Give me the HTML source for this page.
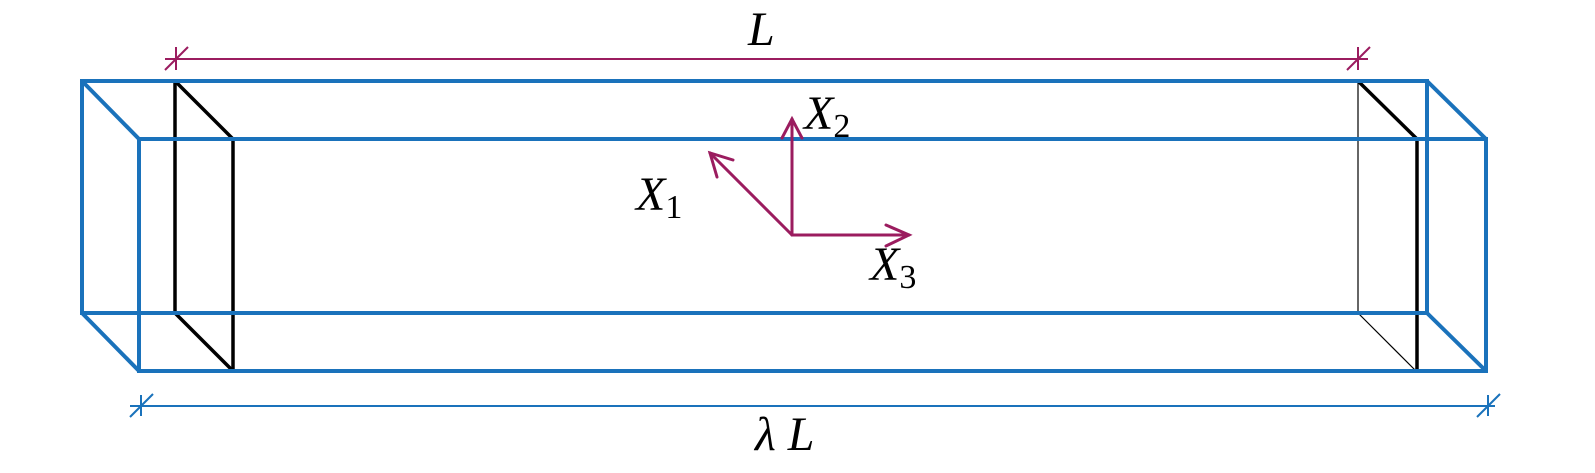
<!DOCTYPE html>
<html><head><style>body{margin:0;background:#fff}svg{display:block}text{font-family:"Liberation Serif",serif;font-style:italic;fill:#000}</style></head>
<body>
<svg width="1595" height="473" viewBox="0 0 1595 473" xmlns="http://www.w3.org/2000/svg">
<g stroke="#000" fill="none" stroke-width="3.5">
<line x1="175" y1="80" x2="175" y2="313"/>
<line x1="175" y1="81" x2="233" y2="139"/>
<line x1="233" y1="139" x2="233" y2="373"/>
<line x1="175" y1="313" x2="233" y2="371"/>
<line x1="1358" y1="81" x2="1417" y2="139"/>
<line x1="1417" y1="139" x2="1417" y2="371"/>
</g>
<g stroke="#000" fill="none" stroke-width="1.2">
<line x1="1358" y1="81" x2="1358" y2="313"/>
<line x1="1358" y1="313" x2="1416" y2="371"/>
</g>
<g stroke="#1a72bb" fill="none" stroke-width="4">
<rect x="82" y="81" width="1345" height="232"/>
<rect x="139" y="139" width="1347" height="232"/>
<line x1="82" y1="81" x2="139" y2="139"/>
<line x1="82" y1="313" x2="139" y2="371"/>
<line x1="1427" y1="81" x2="1486" y2="139"/>
<line x1="1427" y1="313" x2="1486" y2="371"/>
</g>
<g stroke="#1a72bb" fill="none" stroke-width="2">
<line x1="130" y1="406" x2="1495" y2="406"/>
<line x1="141" y1="395" x2="141" y2="416"/>
<line x1="130" y1="417" x2="153" y2="394"/>
<line x1="1488" y1="395" x2="1488" y2="416"/>
<line x1="1477" y1="417" x2="1500" y2="394"/>
</g>
<g stroke="#9b1c5f" fill="none" stroke-width="2">
<line x1="165" y1="59" x2="1368" y2="59"/>
<line x1="176" y1="47" x2="176" y2="70"/>
<line x1="165" y1="70" x2="188" y2="47"/>
<line x1="1358" y1="47" x2="1358" y2="70"/>
<line x1="1347" y1="70" x2="1370" y2="47"/>
</g>
<g stroke="#9b1c5f" fill="none" stroke-width="3" stroke-linecap="round">
<line x1="792" y1="235" x2="792" y2="119"/>
<path d="M782 138 L792 119 L802 138"/>
<line x1="792" y1="235" x2="909" y2="235"/>
<path d="M886 225 L909 235 L886 246"/>
<line x1="792" y1="235" x2="710" y2="153"/>
<path d="M717 177 L710 153 L733 160"/>
</g>
<text x="748" y="45" font-size="48">L</text>
<text x="755" y="450" font-size="48">λ L</text>
<text x="804" y="129" font-size="48">X<tspan font-size="34" font-style="normal" dy="8">2</tspan></text>
<text x="636" y="210" font-size="48">X<tspan font-size="34" font-style="normal" dy="8">1</tspan></text>
<text x="870" y="280" font-size="48">X<tspan font-size="34" font-style="normal" dy="8">3</tspan></text>
</svg>
</body></html>
